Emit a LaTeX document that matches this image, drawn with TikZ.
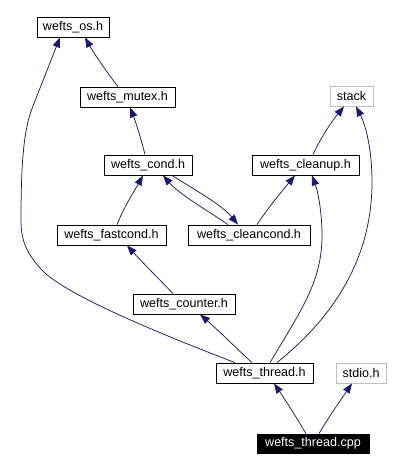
\documentclass[tikz,border=0pt]{standalone}
\usepackage{fontspec}
\setmainfont{Liberation Sans}
\usetikzlibrary{arrows.meta}
\definecolor{edgecol}{HTML}{191970}
\definecolor{graybox}{HTML}{BFBFBF}
\tikzset{
  box/.style={draw=black, rectangle, minimum height=20bp, inner sep=0pt, line width=0.8bp, font=\fontsize{12.6}{14}\selectfont},
  extbox/.style={box, draw=graybox},
  rootbox/.style={box, fill=black, text=white, minimum height=19bp},
  dep/.style={draw=edgecol, line width=0.75bp, -{Triangle[length=10bp,width=7.5bp,fill=edgecol]}},
}
\begin{document}
\begin{tikzpicture}[x=1bp,y=-1bp]
\path[use as bounding box] (0,0) rectangle (414,470);
\node[box, minimum width=72bp] (os) at (73,27) {wefts\_os.h};
\node[box, minimum width=95bp] (mutex) at (127.5,97) {wefts\_mutex.h};
\node[box, minimum width=88bp] (cond) at (148,165) {wefts\_cond.h};
\node[box, minimum width=109bp] (fastcond) at (111.5,235) {wefts\_fastcond.h};
\node[box, minimum width=122bp] (cleancond) at (249,235) {wefts\_cleancond.h};
\node[box, minimum width=107bp] (cleanup) at (305.5,165) {wefts\_cleanup.h};
\node[extbox, minimum width=43bp] (stack) at (351.5,96) {stack};
\node[box, minimum width=102bp] (counter) at (184,304) {wefts\_counter.h};
\node[box, minimum width=97bp] (thread) at (264.5,373) {wefts\_thread.h};
\node[extbox, minimum width=50bp] (stdio) at (361,373) {stdio.h};
\node[rootbox, minimum width=112bp] (cpp) at (313,443.5) {wefts\_thread.cpp};

% edges
\draw[dep] ([xshift=-9.5bp]mutex.north) .. controls (105,70) and (92,50) .. ([xshift=12bp]os.south);
\draw[dep] ([xshift=-29.5bp]thread.north) .. controls (150,330) and (60,292) .. (40,268)
   .. controls (26,252) and (21,240) .. (21,220)
   .. controls (21,160) and (24,128) .. (33,106) -- ([xshift=-13bp]os.south);
\draw[dep] ([xshift=-3bp]cond.north) .. controls (140,135) and (135,120) .. ([xshift=2.5bp]mutex.south);
\draw[dep] ([xshift=5.5bp]fastcond.north) .. controls (125,205) and (135,190) .. ([xshift=-5bp]cond.south);
\draw[dep] ([xshift=24bp]cond.south) .. controls (195,190) and (222,205) .. ([xshift=-11bp]cleancond.north);
\draw[dep] ([xshift=-21bp]cleancond.north) .. controls (210,212) and (180,195) .. ([xshift=15bp]cond.south);
\draw[dep] ([xshift=8bp]cleancond.north) .. controls (270,205) and (283,190) .. ([xshift=-10.5bp]cleanup.south);
\draw[dep] ([xshift=7.5bp]cleanup.north) .. controls (322,135) and (333,120) .. ([xshift=-7.5bp]stack.south);
\draw[dep] ([xshift=12.5bp]thread.north) .. controls (330,320) and (372,262) .. (372,182)
   .. controls (372,150) and (366,126) .. ([xshift=4.5bp]stack.south);
\draw[dep] ([xshift=5.5bp]thread.north) .. controls (300,312) and (322,282) .. (322,236)
   .. controls (322,212) and (318,192) .. ([xshift=6.5bp]cleanup.south);
\draw[dep] ([xshift=-11bp]counter.north) .. controls (158,278) and (142,262) .. ([xshift=15.5bp]fastcond.south);
\draw[dep] ([xshift=-12.5bp]thread.north) .. controls (235,347) and (218,330) .. ([xshift=16bp]counter.south);
\draw[dep] ([xshift=-7bp]cpp.north) .. controls (295,415) and (284,398) .. ([xshift=9.5bp]thread.south);
\draw[dep] ([xshift=6bp]cpp.north) .. controls (330,415) and (342,398) .. ([xshift=-9bp]stdio.south);
\end{tikzpicture}
\end{document}
